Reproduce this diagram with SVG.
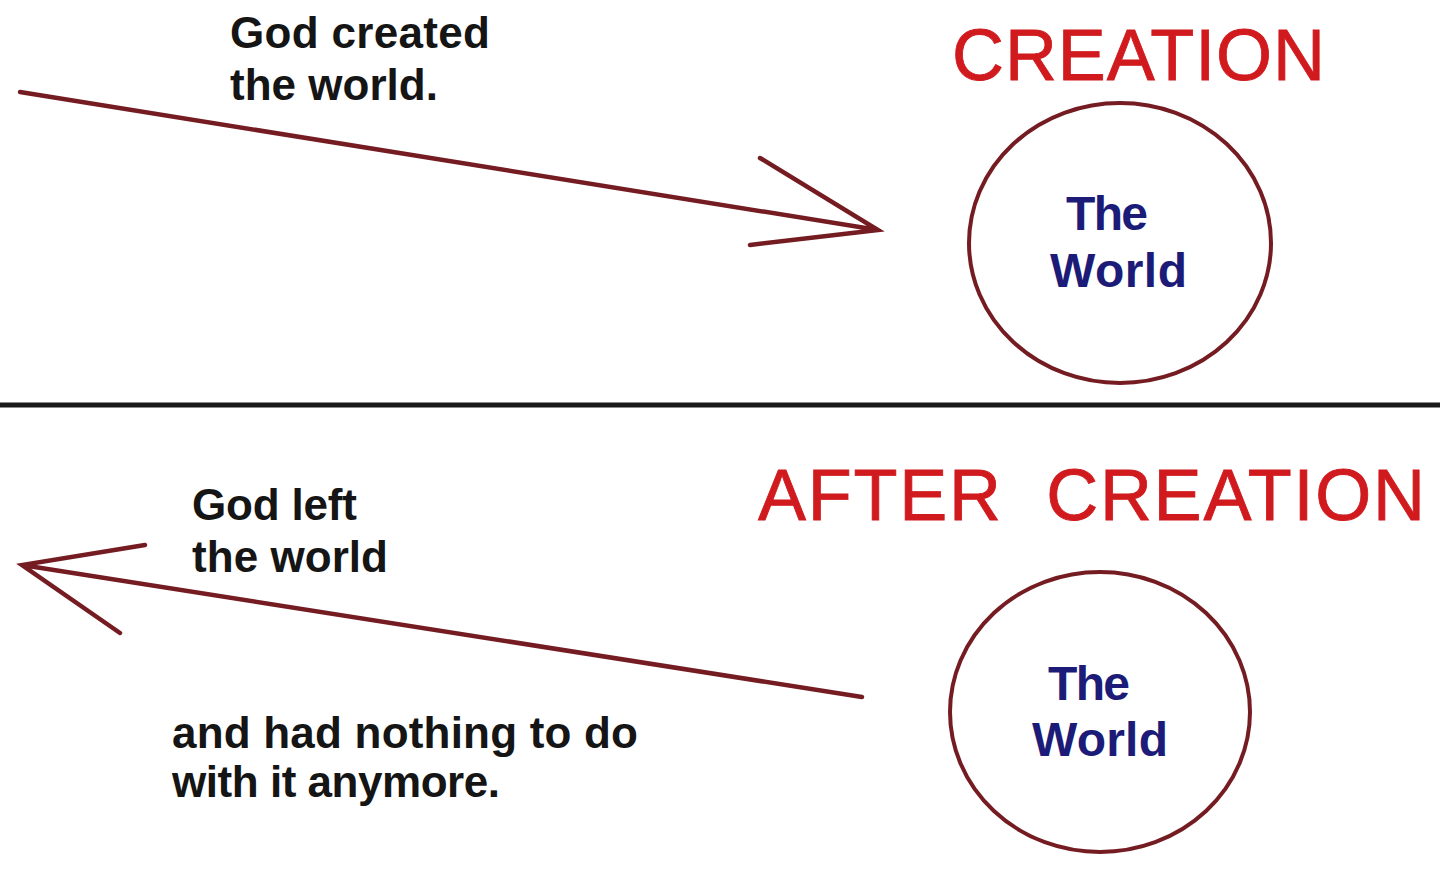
<svg xmlns="http://www.w3.org/2000/svg" width="1440" height="873" viewBox="0 0 1440 873">
<style>
.lbl{font-family:"Liberation Sans",Arial,sans-serif;font-weight:bold;font-size:44px;fill:#151515}
.ttl{font-family:"Liberation Sans",Arial,sans-serif;font-size:72px;fill:#d01a1e;stroke:#d01a1e;stroke-width:0.8}
.wld{font-family:"Liberation Sans",Arial,sans-serif;font-weight:bold;font-size:48px;fill:#1c1c78}
.arr{stroke:#741c22;stroke-width:4.5;fill:none;stroke-linecap:round}
.orb{stroke:#741c22;stroke-width:4;fill:#fff}
</style>
<rect width="1440" height="873" fill="#fff"/>
<g id="creation-title"><text class="ttl" x="952" y="80" textLength="373">CREATION</text></g>
<g id="creation-label">
<text class="lbl" x="230" y="48" textLength="260">God created</text>
<text class="lbl" x="230" y="100" textLength="208">the world.</text>
</g>
<g id="world-top">
<ellipse class="orb" cx="1120" cy="243" rx="151" ry="140"/>
<text class="wld" x="1066" y="230" textLength="82">The</text>
<text class="wld" x="1050" y="287" textLength="137">World</text>
</g>
<line x1="0" y1="405" x2="1440" y2="405" stroke="#1a1a1a" stroke-width="5"/>
<g id="after-title"><text class="ttl" x="758" y="520" textLength="667" xml:space="preserve">AFTER  CREATION</text></g>
<g id="after-label">
<text class="lbl" x="192" y="520" textLength="165">God left</text>
<text class="lbl" x="192" y="572" textLength="196">the world</text>
<text class="lbl" x="172" y="748" textLength="466">and had nothing to do</text>
<text class="lbl" x="172" y="797" textLength="328">with it anymore.</text>
</g>
<g id="world-bottom">
<ellipse class="orb" cx="1100" cy="712" rx="150" ry="140"/>
<text class="wld" x="1048" y="700" textLength="82">The</text>
<text class="wld" x="1032" y="756" textLength="136">World</text>
</g>
<g id="connectors">
<path class="arr" d="M20 92 L878 230 M760 158 L878 230 L750 245"/>
<path class="arr" d="M862 697 L22 565 M145 545 L22 565 L120 633"/>
</g>
</svg>
